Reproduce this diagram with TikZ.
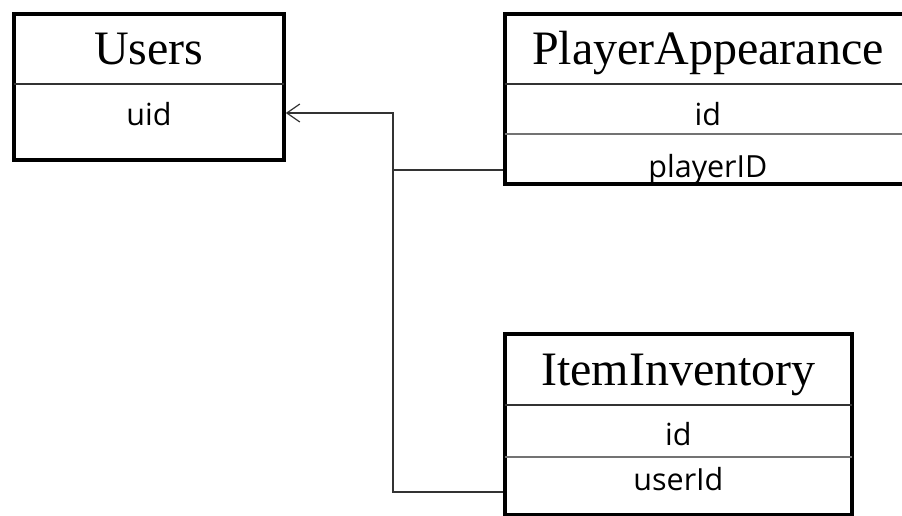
\documentclass[tikz,border=0pt]{standalone}
\usepackage{fontspec}
\usetikzlibrary{arrows.meta}
\newfontfamily\serifttl{Liberation Serif}
\newfontfamily\sansfld{Open Sans}
\tikzstyle{tablebox} = [rectangle, draw=black, line width=3.8pt, inner sep=0pt, anchor=north west]
\tikzstyle{titletext} = [font=\serifttl\fontsize{48}{48}\selectfont, anchor=base, inner sep=0pt]
\tikzstyle{fieldtext} = [font=\sansfld\fontsize{30.5}{30.5}\selectfont, anchor=base, inner sep=0pt]
\tikzstyle{titlerule} = [draw=black!80, line width=2.2pt, shorten <=1.9pt, shorten >=1.9pt]
\tikzstyle{fieldrule} = [draw=black!55, line width=1.6pt, shorten <=1.9pt, shorten >=1.9pt]
\tikzstyle{link} = [draw=black!80, line width=1.2pt]
\tikzstyle{arrow} = [link, <-, >={Straight Barb[length=13pt,width=18pt]}]
\begin{document}
\begin{tikzpicture}[x=1pt, y=-1pt]
   \useasboundingbox (0,0) rectangle (902,516);
   \fill [white] (0,0) rectangle (902,516);
   \clip (0,0) rectangle (902,516);
   % tables
   \node (users) [tablebox, minimum width=270pt, minimum height=146pt] at (12,12) {};
   \node (player) [tablebox, minimum width=406pt, minimum height=170pt] at (503,12) {};
   \node (item) [tablebox, minimum width=347pt, minimum height=181pt] at (503,332) {};
   \draw [titlerule] (users.west |- 0,84) -- (users.east |- 0,84);
   \draw [titlerule] (player.west |- 0,84) -- (player.east |- 0,84);
   \draw [fieldrule] (player.west |- 0,134) -- (player.east |- 0,134);
   \draw [titlerule] (item.west |- 0,405) -- (item.east |- 0,405);
   \draw [fieldrule] (item.west |- 0,457) -- (item.east |- 0,457);
   % names and fields
   \node (usersname) [titletext] at (users.north |- 0,65) {Users};
   \node (uid) [fieldtext] at (users.north |- 0,125) {uid};
   \node (playername) [titletext] at (player.north |- 0,65) {PlayerAppearance};
   \node (playerid) [fieldtext] at (player.north |- 0,125) {id};
   \node (playerfk) [fieldtext] at (player.north |- 0,177) {playerID};
   \node (itemname) [titletext] at (item.north |- 0,385) {ItemInventory};
   \node (itemid) [fieldtext] at (item.north |- 0,445) {id};
   \node (itemfk) [fieldtext] at (item.north |- 0,490) {userId};
   % links to Users.uid
   \coordinate (bustop) at (393,113);
   \coordinate (busmid) at (393,170);
   \coordinate (busend) at (393,492);
   \draw [arrow] (users.east |- bustop) -- (bustop) -- (busend) -- (item.west |- busend);
   \draw [link] (busmid) -- (player.west |- busmid);
\end{tikzpicture}
\end{document}
